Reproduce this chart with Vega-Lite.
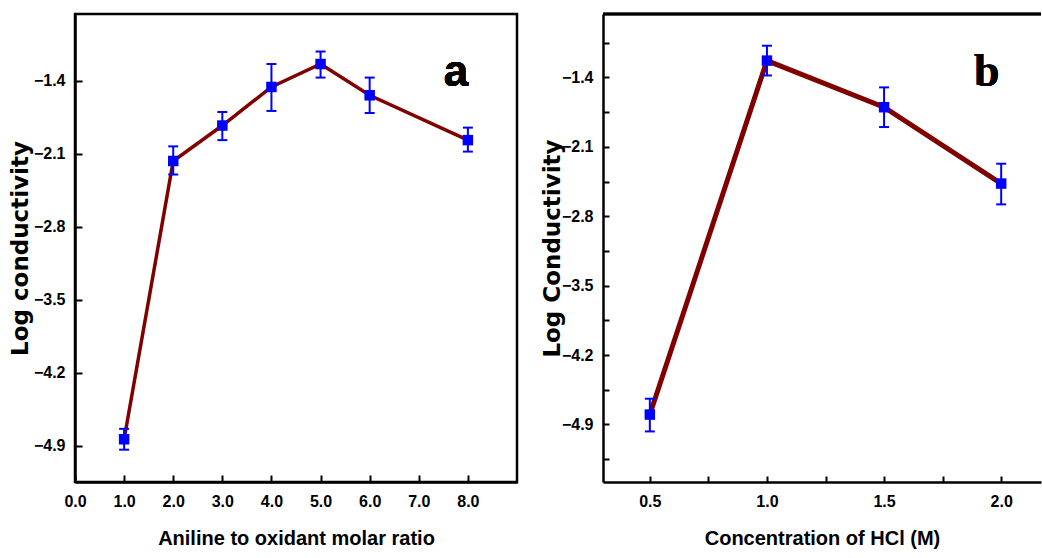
{
  "$schema": "https://vega.github.io/schema/vega-lite/v6.json",
  "background": "white",
  "padding": {"left": 7, "top": 12, "right": 0, "bottom": 0},
  "spacing": 22,
  "config": {
    "view": {"stroke": null},
    "axis": {
      "grid": false,
      "domainColor": "black",
      "domainWidth": 2.5,
      "labelFont": "Liberation Sans",
      "labelFontWeight": "bold",
      "labelFontSize": 16,
      "labelColor": "black",
      "labelFlush": false,
      "labelOverlap": false,
      "titleColor": "black"
    }
  },
  "hconcat": [
    {
      "width": 442,
      "height": 468,
      "view": {"stroke": "black", "strokeWidth": 2.5},
      "data": {
        "values": [
          {"ratio": 1, "logc": -4.84, "lo": -4.94, "hi": -4.74},
          {"ratio": 2, "logc": -2.17, "lo": -2.30, "hi": -2.03},
          {"ratio": 3, "logc": -1.83, "lo": -1.97, "hi": -1.70},
          {"ratio": 4, "logc": -1.46, "lo": -1.69, "hi": -1.24},
          {"ratio": 5, "logc": -1.24, "lo": -1.37, "hi": -1.12},
          {"ratio": 6, "logc": -1.54, "lo": -1.71, "hi": -1.37},
          {"ratio": 8, "logc": -1.97, "lo": -2.08, "hi": -1.85}
        ]
      },
      "encoding": {
        "x": {
          "field": "ratio", "type": "quantitative",
          "scale": {"domain": [0, 9], "nice": false, "zero": false},
          "axis": {
            "title": "Aniline to oxidant molar ratio",
            "values": [0, 1, 2, 3, 4, 5, 6, 7, 8],
            "format": ".1f",
            "ticks": true,
            "tickColor": "black",
            "tickWidth": 2,
            "tickSize": -7,
            "labelPadding": 18,
            "minExtent": 46, "maxExtent": 46,
            "titlePadding": 0,
            "titleFont": "Liberation Sans",
            "titleFontSize": 20,
            "titleFontWeight": "bold"
          }
        },
        "y": {
          "field": "logc", "type": "quantitative",
          "scale": {"domain": [-5.25, -0.76], "nice": false, "zero": false},
          "axis": {
            "title": "Log conductivity",
            "values": [-4.9, -4.2, -3.5, -2.8, -2.1, -1.4],
            "format": ".1f",
            "ticks": true,
            "tickColor": "black",
            "tickWidth": 2,
            "tickSize": -7,
            "labelPadding": 17,
            "minExtent": 38, "maxExtent": 38,
            "titlePadding": 5,
            "titleFont": "DejaVu Sans",
            "titleFontSize": 23,
            "titleFontWeight": "bold"
          }
        }
      },
      "layer": [
        {
          "mark": {"type": "line", "color": "#800000", "strokeWidth": 3.5}
        },
        {
          "mark": {"type": "rule", "color": "#0000ff", "strokeWidth": 2},
          "encoding": {
            "y": {"field": "lo", "type": "quantitative"},
            "y2": {"field": "hi"}
          }
        },
        {
          "mark": {"type": "tick", "orient": "horizontal", "color": "#0000ff", "thickness": 2, "size": 10, "opacity": 1},
          "encoding": {
            "y": {"field": "lo", "type": "quantitative"}
          }
        },
        {
          "mark": {"type": "tick", "orient": "horizontal", "color": "#0000ff", "thickness": 2, "size": 10, "opacity": 1},
          "encoding": {
            "y": {"field": "hi", "type": "quantitative"}
          }
        },
        {
          "mark": {"type": "point", "shape": "square", "filled": true, "color": "#0000ff", "size": 110, "opacity": 1}
        },
        {
          "mark": {"type": "text", "text": "a", "font": "Liberation Sans", "fontWeight": "bold", "fontSize": 44, "baseline": "alphabetic", "align": "center", "color": "black"},
          "encoding": {
            "x": {"datum": 7.76, "type": "quantitative"},
            "y": {"datum": -1.448, "type": "quantitative"}
          }
        }
      ]
    },
    {
      "width": 438,
      "height": 468,
      "data": {
        "values": [
          {"hcl": 0.5, "logc": -4.80, "lo": -4.97, "hi": -4.64},
          {"hcl": 1.0, "logc": -1.23, "lo": -1.38, "hi": -1.08},
          {"hcl": 1.5, "logc": -1.70, "lo": -1.90, "hi": -1.50},
          {"hcl": 2.0, "logc": -2.47, "lo": -2.68, "hi": -2.27}
        ]
      },
      "encoding": {
        "x": {
          "field": "hcl", "type": "quantitative",
          "scale": {"domain": [0.3, 2.17], "nice": false, "zero": false},
          "axis": {
            "title": "Concentration of HCl (M)",
            "values": [0.5, 0.75, 1, 1.25, 1.5, 1.75, 2],
            "labelExpr": "round(datum.value*4) % 2 == 0 ? format(datum.value, '.1f') : ''",
            "ticks": true,
            "tickColor": "black",
            "tickWidth": 2,
            "tickSize": -6,
            "labelPadding": 17,
            "minExtent": 46, "maxExtent": 46,
            "titlePadding": 0,
            "titleFont": "Liberation Sans",
            "titleFontSize": 20,
            "titleFontWeight": "bold"
          }
        },
        "y": {
          "field": "logc", "type": "quantitative",
          "scale": {"domain": [-5.48, -0.76], "nice": false, "zero": false},
          "axis": {
            "title": "Log Conductivity",
            "values": [-5.25, -4.9, -4.55, -4.2, -3.85, -3.5, -3.15, -2.8, -2.45, -2.1, -1.75, -1.4, -1.05],
            "labelExpr": "abs(round(datum.value*20) % 14) == 0 ? format(datum.value, '.1f') : ''",
            "ticks": true,
            "tickColor": "black",
            "tickWidth": 2,
            "tickSize": -6,
            "labelPadding": 16,
            "minExtent": 34, "maxExtent": 34,
            "titlePadding": 5,
            "titleFont": "DejaVu Sans",
            "titleFontSize": 23,
            "titleFontWeight": "bold"
          }
        }
      },
      "layer": [
        {
          "mark": {"type": "rule", "color": "black", "strokeWidth": 2.5},
          "encoding": {
            "x": null,
            "y": {"datum": -0.76, "type": "quantitative"}
          }
        },
        {
          "mark": {"type": "line", "color": "#800000", "strokeWidth": 5}
        },
        {
          "mark": {"type": "rule", "color": "#0000ff", "strokeWidth": 2},
          "encoding": {
            "y": {"field": "lo", "type": "quantitative"},
            "y2": {"field": "hi"}
          }
        },
        {
          "mark": {"type": "tick", "orient": "horizontal", "color": "#0000ff", "thickness": 2, "size": 10, "opacity": 1},
          "encoding": {
            "y": {"field": "lo", "type": "quantitative"}
          }
        },
        {
          "mark": {"type": "tick", "orient": "horizontal", "color": "#0000ff", "thickness": 2, "size": 10, "opacity": 1},
          "encoding": {
            "y": {"field": "hi", "type": "quantitative"}
          }
        },
        {
          "mark": {"type": "point", "shape": "square", "filled": true, "color": "#0000ff", "size": 110, "opacity": 1}
        },
        {
          "mark": {"type": "text", "text": "b", "font": "Liberation Serif", "fontWeight": "bold", "fontSize": 46, "baseline": "alphabetic", "align": "center", "color": "black"},
          "encoding": {
            "x": {"datum": 1.939, "type": "quantitative"},
            "y": {"datum": -1.484, "type": "quantitative"}
          }
        }
      ]
    }
  ]
}
